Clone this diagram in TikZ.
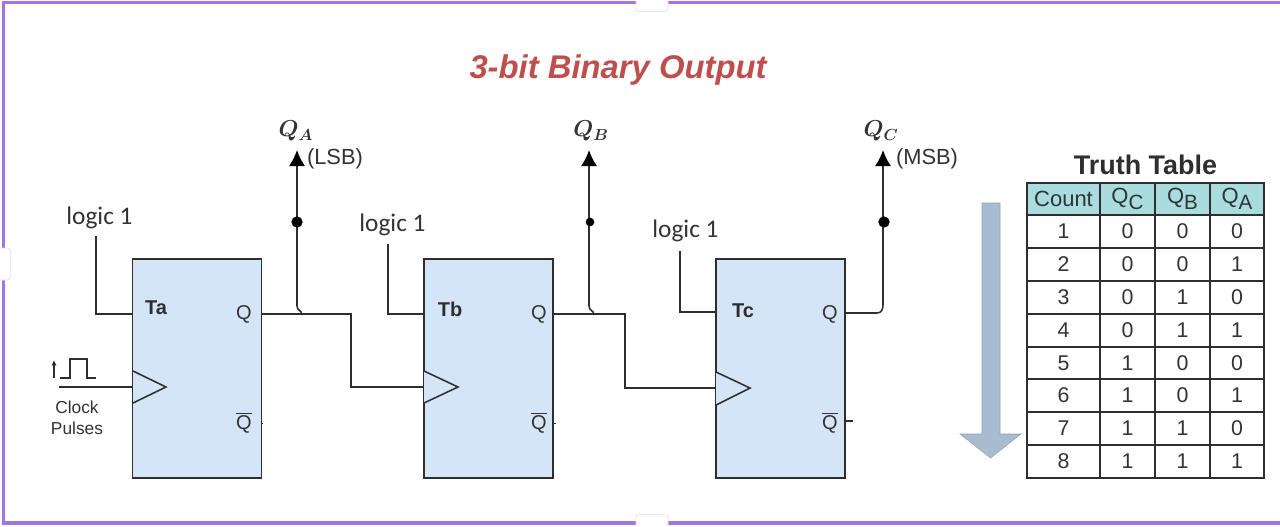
\documentclass[tikz,border=0pt]{standalone}
\usepackage{fontspec}
\setmainfont{Liberation Sans}
\newfontfamily\logicfont{Carlito}
\usetikzlibrary{arrows.meta}
\definecolor{wirec}{HTML}{2E2E2E}
\definecolor{ffill}{HTML}{D5E5F8}
\definecolor{headc}{HTML}{A8DCDF}
\definecolor{framec}{HTML}{A673E2}
\definecolor{titlec}{HTML}{BE4F4C}
\definecolor{arrowc}{HTML}{A9BCCF}
\definecolor{arrowd}{HTML}{8FA5BA}
\definecolor{textc}{HTML}{333333}
\tikzset{
  wire/.style={draw=wirec,line width=1.15pt},
  outwire/.style={wire,-{Latex[length=12pt,width=12pt,black]}},
  ffbox/.style={draw=wirec,fill=ffill,line width=1.2pt,minimum width=96.5pt,minimum height=164.25pt,inner sep=0pt},
  ffname/.style={font=\fontsize{15}{18}\selectfont\bfseries,text=wirec,inner sep=0pt},
  pin/.style={font=\fontsize{15}{18}\selectfont,text=textc,inner sep=0pt},
  logic/.style={font=\logicfont\fontsize{19}{22}\selectfont,text=textc,inner sep=0pt},
  small/.style={font=\fontsize{13}{15}\selectfont,text=textc,inner sep=0pt},
  side/.style={font=\fontsize{16.4}{19}\selectfont,text=textc,inner sep=0pt},
  qname/.style={font=\fontsize{18.5}{22}\selectfont\boldmath,text=textc,inner sep=0pt},
  dotn/.style={circle,fill=black,inner sep=0pt,minimum size=8.5pt},
  clk/.style={wire,fill=ffill,line join=miter},
  cell/.style={draw=wirec,line width=1.5pt},
  val/.style={font=\fontsize{16}{19}\selectfont,text=textc,inner sep=0pt},
  hdr/.style={font=\fontsize{16.5}{19}\selectfont,text=textc,inner sep=0pt},
  handle/.style={draw=black!12,fill=white,rounded corners=2.5pt,line width=.5pt,inner sep=0pt},
}
\newcommand{\subq}[1]{Q\raisebox{-0.55ex}{\fontsize{15.5}{18}\selectfont #1}}
\begin{document}
\begin{tikzpicture}[x=0.75pt,y=-0.75pt]
\useasboundingbox (0,0) rectangle (1280,526);
\fill[white] (0,0) rectangle (1280,526);
% frame
\draw[framec,line width=2.6pt] (1280,2.5) -- (3.5,2.5) -- (3.5,523) -- (1280,523);
\node[handle,minimum width=24pt,minimum height=13pt] (h1) at (652,3) {};
\node[handle,minimum width=24pt,minimum height=13pt] (h3) at (652,523) {};
\node[handle,minimum width=13pt,minimum height=24pt] (h2) at (2,264) {};
% title
\node[font=\fontsize{24.6}{29}\selectfont\bfseries\itshape,text=titlec,inner sep=0pt] (title) at (618,70) {3-bit Binary Output};
% flip-flops
\node[ffbox] (ta) at (197,368.5) {};
\node[ffbox] (tb) at (488.5,368.5) {};
\node[ffbox] (tc) at (780.5,368.5) {};
\node[ffname] (tan) at (156,308) {Ta};
\node[ffname] (tbn) at (450,309) {Tb};
\node[ffname] (tcn) at (743,311) {Tc};
\node[pin] (qa) at (244,314) {Q};
\node[pin] (qb) at (539,314) {Q};
\node[pin] (qc) at (830,314) {Q};
\node[pin] (qab) at (244,423) {$\overline{\hbox{Q}}$};
\node[pin] (qbb) at (539,423) {$\overline{\hbox{Q}}$};
\node[pin] (qcb) at (830,423) {$\overline{\hbox{Q}}$};
% logic 1
\node[logic] (la) at (99.5,218) {logic 1};
\node[logic] (lb) at (392.5,225) {logic 1};
\node[logic] (lc) at (685.5,231) {logic 1};
\coordinate (lat) at (96,236);
\coordinate (lbt) at (388,244);
\coordinate (lct) at (680,251);
\coordinate (ta1) at (133,314);
\coordinate (tb1) at (424,314);
\coordinate (tc1) at (716,312);
\draw[wire] (lat) |- (ta1);
\draw[wire] (lbt) |- (tb1);
\draw[wire] (lct) |- (tc1);
% clock triangles
\coordinate (ca) at (133,387);
\coordinate (cb) at (424,387);
\coordinate (cc) at (716,388);
\draw[clk] (133,371) -- (166,387) -- (133,403);
\draw[clk] (424,371) -- (458,387) -- (424,403);
\draw[clk] (716,372) -- (750,388) -- (716,405);
% clock input
\coordinate (cin) at (59,387);
\draw[wire] (cin) -- (ca);
\draw[wire] (60,378) -- (70,378) -- (70,359) -- (87,359) -- (87,378) -- (96,378);
\draw[wire,line width=.9pt,-{Latex[length=4pt,width=4pt]}] (54,378) -- (54,360);
\node[small] (clk1) at (77,407) {Clock};
\node[small] (clk2) at (77,428) {Pulses};
% Q wires to next stage
\coordinate (qao) at (261,314);
\coordinate (qbo) at (553,314);
\coordinate (qco) at (845,313);
\draw[wire] (qao) -- (351,314) -- (351,387) -- (cb);
\draw[wire] (qbo) -- (625,314) -- (625,388) -- (cc);
% outputs
\coordinate (ja) at (302,315);
\coordinate (jb) at (594,315);
\coordinate (oa) at (297,150);
\coordinate (ob) at (589,150);
\coordinate (oc) at (883,150);
\draw[outwire] (ja) .. controls (302,310) and (297,311) .. (297,306) -- (oa);
\draw[outwire] (jb) .. controls (594,310) and (589,311) .. (589,306) -- (ob);
\draw[outwire] (qco) -- (877,313) .. controls (881,313) and (883,310) .. (883,305) -- (oc);
\node[dotn] (da) at (297,222) {};
\node[dotn,minimum size=6.5pt] (db) at (590,222) {};
\node[dotn] (dc) at (884,222) {};
% Qbar stubs
\draw[wire] (845,421) -- (853,421);
\draw[wire,line width=.6pt] (261,423) -- (263,423);
\draw[wire,line width=.6pt] (553,423) -- (556,423);
% output labels
\node[qname] (na) at (296,131) {$Q_A$};
\node[qname] (nb) at (591,131) {$Q_B$};
\node[qname] (nc) at (881,131) {$Q_C$};
\node[side] (lsb) at (335,159) {(LSB)};
\node[side] (msb) at (927,159) {(MSB)};
% down arrow
\draw[draw=arrowd,fill=arrowc,line width=.4pt,line join=miter] (982,203) -- (1000,203) -- (1000,434) -- (1021,434) -- (990.5,458) -- (960,434) -- (982,434) -- cycle;
% truth table
\node[font=\fontsize{20.2}{24}\selectfont\bfseries,text=wirec,inner sep=0pt] (tt) at (1145.5,165) {Truth Table};
\fill[headc] (1027,183) rectangle (1264,215);
\draw[cell] (1027,183) rectangle (1100,215) node[midway,hdr] (h0) {Count};
\draw[cell] (1100,183) rectangle (1155,215) node[midway,hdr] (hc) {\subq{C}};
\draw[cell] (1155,183) rectangle (1210,215) node[midway,hdr] (hb) {\subq{B}};
\draw[cell] (1210,183) rectangle (1264,215) node[midway,hdr] (ha) {\subq{A}};
\foreach \n/\ya/\yb/\vc/\vb/\va in {1/215/248/0/0/0,2/248/281/0/0/1,3/281/314/0/1/0,4/314/347/0/1/1,5/347/379/1/0/0,6/379/412/1/0/1,7/412/445/1/1/0,8/445/478/1/1/1}{
  \draw[cell] (1027,\ya) rectangle (1100,\yb) node[midway,val] (r\n) {\n};
  \draw[cell] (1100,\ya) rectangle (1155,\yb) node[midway,val] (rc\n) {\vc};
  \draw[cell] (1155,\ya) rectangle (1210,\yb) node[midway,val] (rb\n) {\vb};
  \draw[cell] (1210,\ya) rectangle (1264,\yb) node[midway,val] (ra\n) {\va};
}
\end{tikzpicture}
\end{document}
